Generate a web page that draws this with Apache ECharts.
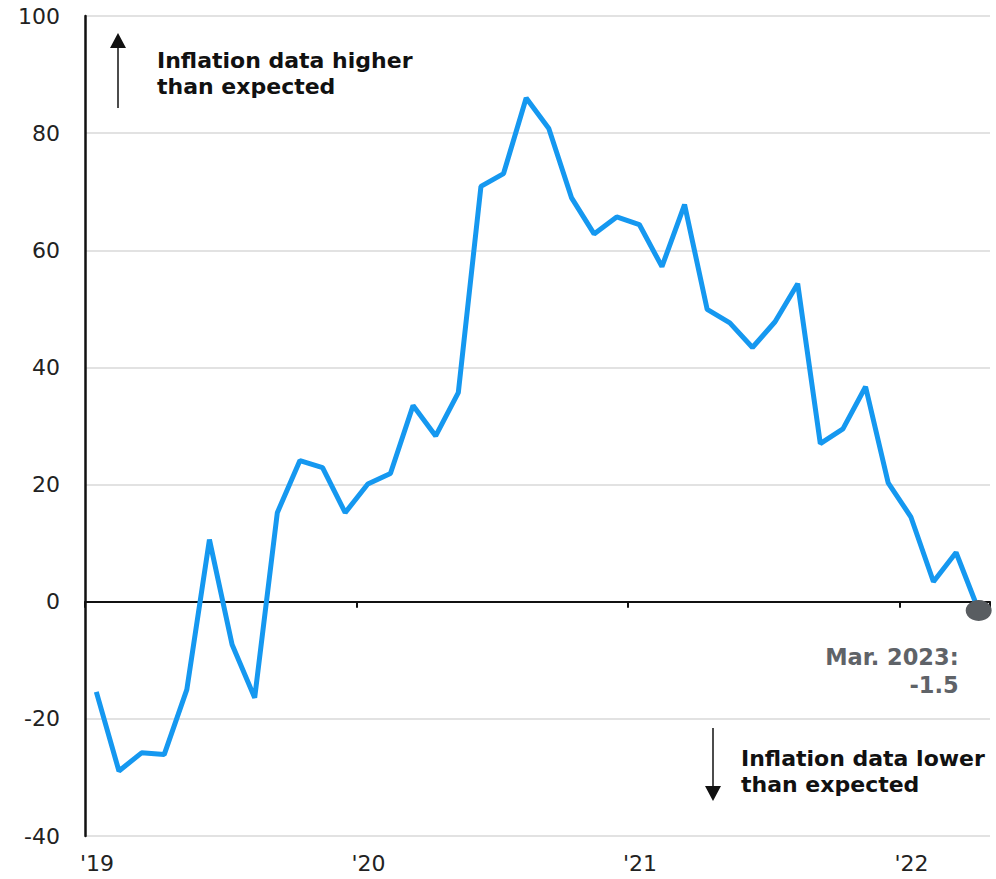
<!DOCTYPE html>
<html>
<head>
<meta charset="utf-8">
<script src="https://cdn.jsdelivr.net/npm/echarts@6/dist/echarts.min.js"></script>
<style>
html,body{margin:0;padding:0;background:#fff;}
#chart{width:996px;height:879px;}
</style>
</head>
<body>
<div id="chart"></div>
<script>
// Monthly surprise index values (40 months, ending Mar. 2023)
const values = [
  -15.4, -28.9, -25.8, -26.1, -15.0, 10.6, -7.3, -16.4, 15.2, 24.1, 22.9, 15.2,
  20.1, 21.9, 33.5, 28.3, 35.7, 70.9, 73.1, 86.0, 80.8, 69.0, 62.8, 65.7,
  64.4, 57.2, 67.8, 49.9, 47.6, 43.4, 47.8, 54.3, 27.0, 29.5, 36.7, 20.3,
  14.5, 3.4, 8.4, -1.5
];
const yearLabels = ["'19", "'20", "'21", "'22"];
const yTicks = [-40, -20, 0, 20, 40, 60, 80, 100];
const lastLabel = ["Mar. 2023:", "-1.5"];

const monthsPerYear = 12;
const seriesData = values.map((v, i) => {
  const item = { value: [i + 0.5, v] };
  if (i === values.length - 1) {
    item.symbol = 'circle';
    item.symbolSize = [26, 21];
    item.itemStyle = { color: '#595d61' };
    item.label = {
      show: true,
      position: 'bottom',
      distance: 22,
      offset: [-20, 0],
      align: 'right',
      formatter: lastLabel.join('\n'),
      fontFamily: 'DejaVu Sans',
      fontWeight: 'bold',
      fontSize: 22.5,
      lineHeight: 28,
      color: '#5f6368'
    };
  }
  return item;
});

const chart = echarts.init(document.getElementById('chart'), null, { renderer: 'svg' });
const font = 'DejaVu Sans';

chart.setOption({
  animation: false,
  backgroundColor: '#ffffff',
  grid: { left: 85, top: 16, right: 6, bottom: 43, containLabel: false },
  xAxis: [
    {
      type: 'value', min: 0, max: 40, interval: monthsPerYear,
      axisLine: { onZero: true, lineStyle: { color: '#111', width: 2 } },
      axisTick: { show: true, inside: false, length: 6, lineStyle: { color: '#111', width: 2 } },
      axisLabel: { show: false },
      splitLine: { show: false }
    },
    {
      type: 'value', min: 0, max: 40, interval: monthsPerYear, position: 'bottom',
      axisLine: { show: false, onZero: false },
      axisTick: { show: false },
      splitLine: { show: false },
      axisLabel: {
        show: true, margin: 16,
        padding: [0, 0, 0, 24],
        fontFamily: font, fontSize: 22, color: '#222',
        showMaxLabel: false,
        formatter: v => {
          const idx = Math.round(v / monthsPerYear);
          return (v % monthsPerYear === 0 && idx < yearLabels.length) ? yearLabels[idx] : '';
        }
      }
    }
  ],
  yAxis: {
    type: 'value', min: yTicks[0], max: yTicks[yTicks.length - 1], interval: 20,
    axisLine: { show: true, onZero: false, lineStyle: { color: '#111', width: 2.5 } },
    axisTick: { show: false },
    axisLabel: { margin: 25, fontFamily: font, fontSize: 22, color: '#222' },
    splitLine: { show: true, lineStyle: { color: '#d9d9d9', width: 1.5 } }
  },
  series: [{
    type: 'line',
    xAxisIndex: 0,
    data: seriesData,
    symbol: 'none',
    showSymbol: true,
    showAllSymbol: true,
    lineStyle: { color: '#1598f0', width: 5 },
    itemStyle: { color: '#1598f0' },
    z: 3
  }],
  graphic: [
    { type: 'line', shape: { x1: 118, y1: 108, x2: 118, y2: 46 }, style: { stroke: '#111', lineWidth: 1.5 } },
    { type: 'polygon', shape: { points: [[118, 33], [110, 48], [126, 48]] }, style: { fill: '#111' } },
    { type: 'text', left: 157, top: 47, style: {
        text: 'Inflation data higher\nthan expected', font: 'bold 22px "DejaVu Sans"',
        lineHeight: 26, fill: '#111' } },
    { type: 'line', shape: { x1: 713, y1: 728, x2: 713, y2: 788 }, style: { stroke: '#111', lineWidth: 1.5 } },
    { type: 'polygon', shape: { points: [[713, 801], [705, 786], [721, 786]] }, style: { fill: '#111' } },
    { type: 'text', left: 741, top: 745, style: {
        text: 'Inflation data lower\nthan expected', font: 'bold 22px "DejaVu Sans"',
        lineHeight: 26, fill: '#111' } }
  ]
});
</script>
</body>
</html>
